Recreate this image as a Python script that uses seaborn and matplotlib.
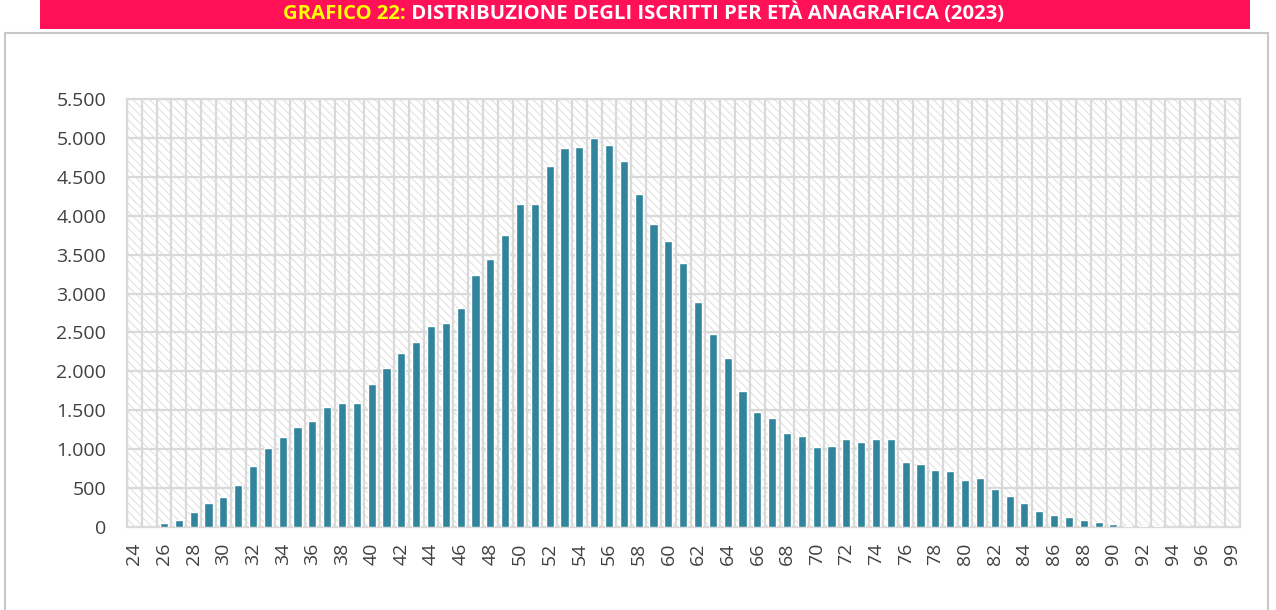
import pandas as pd
import matplotlib
matplotlib.use('Agg')
import matplotlib.pyplot as plt
import seaborn as sns
from matplotlib.patches import Rectangle
from matplotlib.text import Annotation
from matplotlib.ticker import FuncFormatter, MultipleLocator, FixedLocator

# età anagrafica (manca il 97) e numero di iscritti
eta = [str(a) for a in range(24, 97)] + ['98', '99']
iscritti = [0, 0, 50, 95, 190, 310, 390, 540, 785, 1015,
            1160, 1280, 1365, 1540, 1595, 1590, 1840, 2045, 2235, 2380,
            2585, 2620, 2810, 3240, 3440, 3750, 4155, 4145, 4635, 4865,
            4885, 4995, 4915, 4705, 4275, 3890, 3675, 3390, 2885, 2475,
            2170, 1750, 1480, 1400, 1205, 1170, 1030, 1045, 1125, 1090,
            1125, 1130, 835, 815, 735, 720, 610, 630, 485, 395,
            305, 210, 155, 125, 85, 60, 35, 15, 18, 8,
            2, 0, 0, 0, 0]

df = pd.DataFrame({'eta': eta, 'iscritti': iscritti})

sns.set_style('white')
plt.rcParams['font.family'] = ['Open Sans', 'DejaVu Sans']
plt.rcParams['hatch.linewidth'] = 0.7

fig = plt.figure(figsize=(12.76, 6.10), dpi=100)
ax = fig.add_axes([0.0995, 0.1361, 0.8719, 0.7016])

# sfondo tratteggiato dell'area del grafico
ax.add_patch(Rectangle((0, 0), 1, 1, transform=ax.transAxes, facecolor='white',
                       edgecolor='#dedede', hatch='\\\\\\\\', lw=0, zorder=0))

sns.barplot(data=df, x='eta', y='iscritti', color='#31849B', saturation=1,
            width=0.55, ax=ax, zorder=3)

ax.set_xlim(-0.5, len(eta) - 0.5)
ax.set_ylim(0, 5500)
ax.yaxis.set_major_locator(MultipleLocator(500))
ax.yaxis.set_major_formatter(FuncFormatter(lambda v, p: f'{int(v):,}'.replace(',', '.')))

ax.xaxis.set_major_locator(FixedLocator(range(0, len(eta), 2)))
ax.set_xticklabels(eta[::2], rotation=90)
ax.xaxis.set_minor_locator(FixedLocator([i - 0.5 for i in range(len(eta) + 1)]))

ax.set_axisbelow(True)
ax.grid(axis='y', which='major', color='#d9d9d9', lw=1.6)
ax.grid(axis='x', which='minor', color='#d9d9d9', lw=1.6)

ax.tick_params(axis='both', which='both', length=0, labelsize=14, labelcolor='#404040')
ax.tick_params(axis='x', pad=11)
ax.tick_params(axis='y', pad=15)
ax.set_xlabel('')
ax.set_ylabel('')
for s in ax.spines.values():
    s.set_color('#d9d9d9')
    s.set_linewidth(1.6)

# cornice del riquadro
fig.patches.append(Rectangle((5 / 1276, -0.1), 1263 / 1276, 1.1 - 33 / 610,
                             transform=fig.transFigure, fill=False,
                             edgecolor='#c8c8c8', lw=1.5, zorder=0))

# banda del titolo
fig.patches.append(Rectangle((40 / 1276, 1 - 29 / 610), 1210 / 1276, 29 / 610,
                             transform=fig.transFigure, facecolor='#FF1057',
                             edgecolor='none', zorder=1))
t1 = fig.text(283 / 1276, 1 - 14 / 610, 'GRAFICO 22:', color='#FFFF00',
              fontsize=14.6, fontweight='bold', va='center', ha='left', zorder=2)
t2 = Annotation(' DISTRIBUZIONE DEGLI ISCRITTI PER ETÀ ANAGRAFICA (2023)',
                xy=(1, 0), xycoords=t1, va='bottom', ha='left',
                color='white', fontsize=14.6, fontweight='bold',
                annotation_clip=False)
t2.set_zorder(2)
fig.add_artist(t2)

fig.savefig('out.png', dpi=100)
